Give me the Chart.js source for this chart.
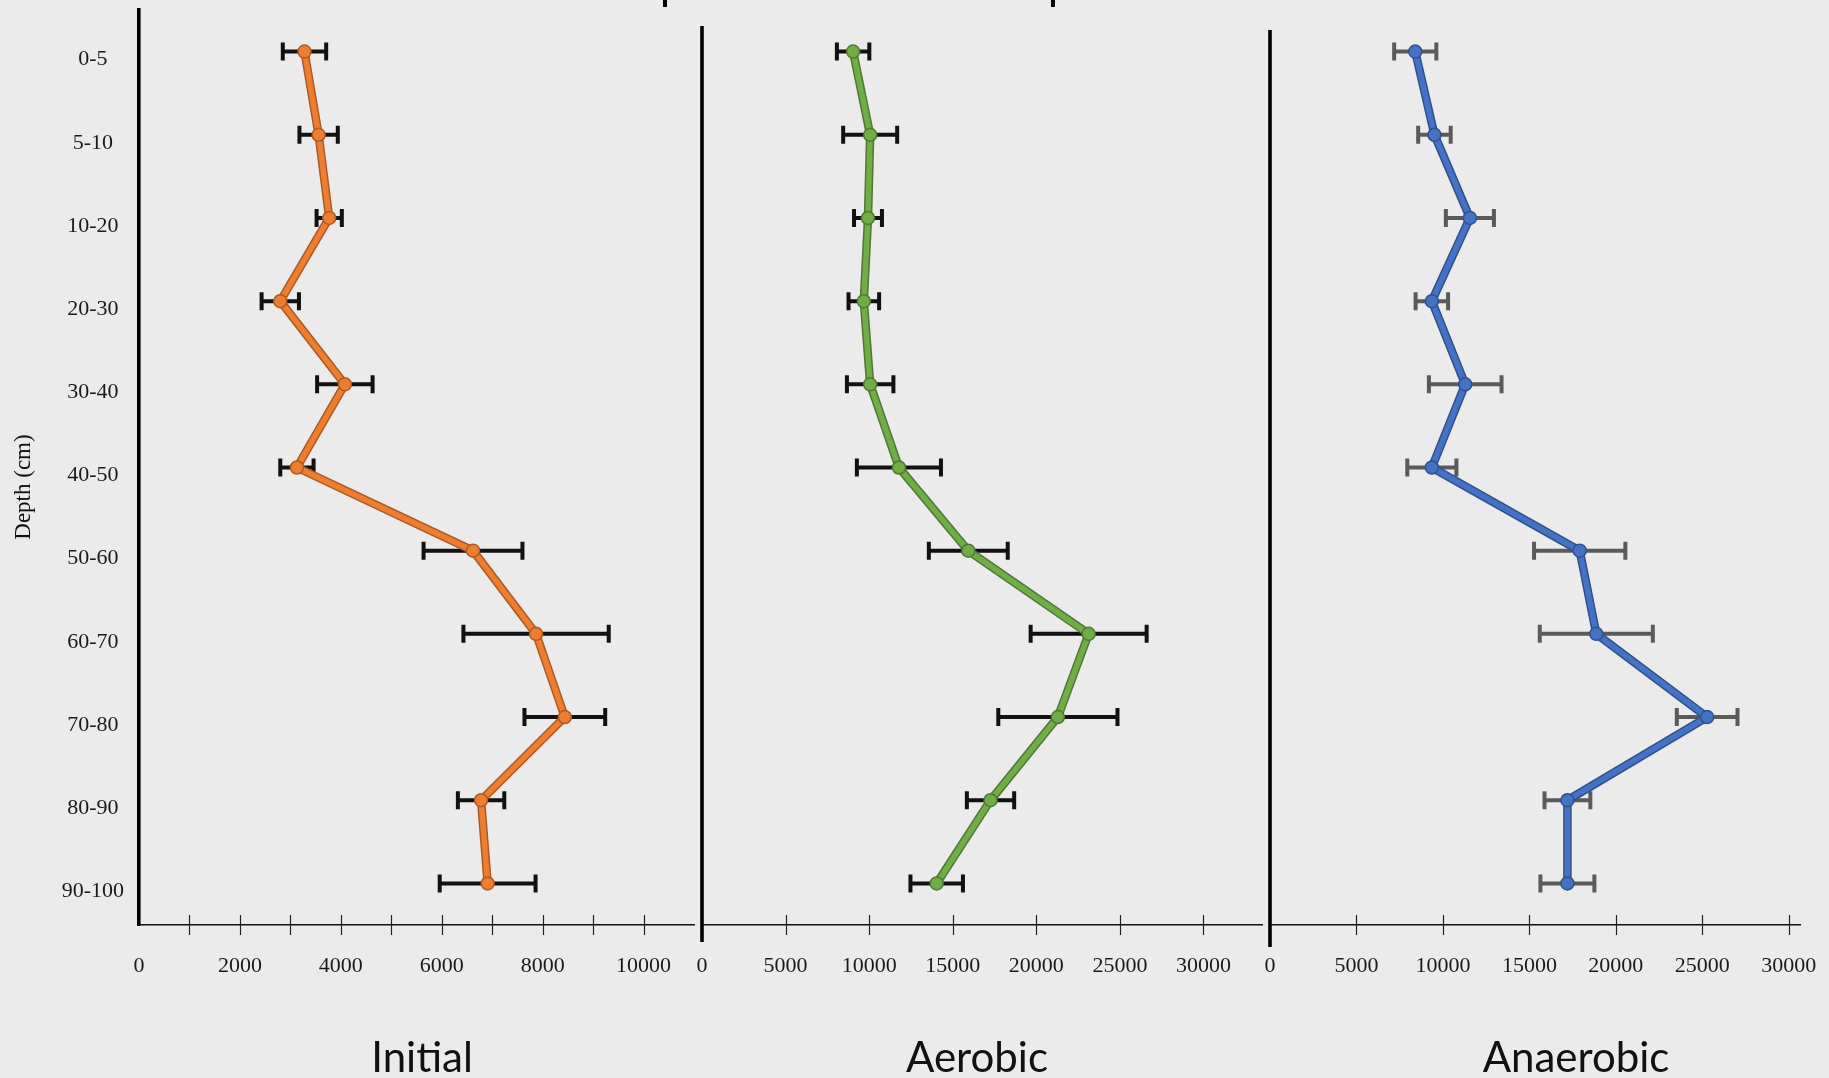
<!DOCTYPE html>
<html>
<head>
<meta charset="utf-8">
<script src="https://cdn.jsdelivr.net/npm/chart.js@4/dist/chart.umd.min.js"></script>
<style>
  html, body { margin:0; padding:0; background:#EBEBEB; width:1829px; height:1078px; overflow:hidden; }
  canvas { position:absolute; top:0; }
  .ptitle { position:absolute; width:400px; text-align:center; font-family:'Lato', sans-serif; font-size:42px; line-height:50.4px; color:#111; top:1031px; }
  .ylab { position:absolute; width:200px; height:30px; line-height:30px; text-align:center; font-family:'Liberation Serif', serif; font-size:23px; color:#111; left:-77px; top:472px; transform:rotate(-90deg); transform-origin:50% 50%; }
  .stub { position:absolute; top:0; width:4px; height:7px; background:#000; }
</style>
</head>
<body>
<canvas id="c1" width="702" height="1078" style="left:0px"></canvas>
<canvas id="c2" width="580" height="1078" style="left:690px"></canvas>
<canvas id="c3" width="571" height="1078" style="left:1258px"></canvas>
<div class="stub" style="left:663px"></div>
<div class="stub" style="left:1051px"></div>
<div class="ylab">Depth (cm)</div>
<div class="ptitle" style="left:222px">Initial</div>
<div class="ptitle" style="left:777px">Aerobic</div>
<div class="ptitle" style="left:1376px">Anaerobic</div>
<script>
// ---------- data ----------
const depthLabels = ['0-5','5-10','10-20','20-30','30-40','40-50','50-60','60-70','70-80','80-90','90-100'];

const initialValues = [3280, 3560, 3770, 2800, 4080, 3130, 6620, 7870, 8440, 6780, 6910];
const initialErrors = [430, 380, 250, 370, 550, 330, 980, 1440, 800, 460, 950];

const aerobicValues = [9040, 10060, 9930, 9680, 10060, 11780, 15930, 23130, 21290, 17260, 14040];
const aerobicErrors = [970, 1615, 835, 915, 1390, 2515, 2360, 3470, 3565, 1415, 1570];

const anaerobicValues = [8400, 9510, 11560, 9360, 11290, 9360, 17910, 18870, 25280, 17200, 17200];
const anaerobicErrors = [1220, 940, 1390, 940, 2100, 1420, 2640, 3270, 1755, 1325, 1560];

const initialTickLabels = [0, 2000, 4000, 6000, 8000, 10000];
const initialTickMarks = [1000, 2000, 3000, 4000, 5000, 6000, 7000, 8000, 9000, 10000];
const wideTickLabels = [0, 5000, 10000, 15000, 20000, 25000, 30000];
const wideTickMarks = [5000, 10000, 15000, 20000, 25000, 30000];

// ---------- plugins ----------
const errorBars = {
  id: 'errorBars',
  beforeDatasetsDraw(chart, args, o) {
    const {ctx} = chart; const xs = chart.scales.x, ys = chart.scales.y;
    ctx.save();
    ctx.strokeStyle = o.color; ctx.lineWidth = 4; ctx.lineCap = 'butt';
    o.values.forEach((v, i) => {
      const y = ys.getPixelForValue(i);
      const x1 = xs.getPixelForValue(v - o.errors[i]);
      const x2 = xs.getPixelForValue(v + o.errors[i]);
      ctx.beginPath();
      ctx.moveTo(x1, y); ctx.lineTo(x2, y);
      ctx.moveTo(x1, y - 9); ctx.lineTo(x1, y + 9);
      ctx.moveTo(x2, y - 9); ctx.lineTo(x2, y + 9);
      ctx.stroke();
    });
    ctx.restore();
  }
};
const crossTicks = {
  id: 'crossTicks',
  afterDraw(chart, args, o) {
    const {ctx} = chart; const xs = chart.scales.x; const yb = chart.chartArea.bottom;
    ctx.save(); ctx.strokeStyle = '#222'; ctx.lineWidth = 1.2;
    o.marks.forEach(v => {
      const x = Math.round(xs.getPixelForValue(v)) + 0.5;
      ctx.beginPath(); ctx.moveTo(x, yb - 10); ctx.lineTo(x, yb + 10); ctx.stroke();
    });
    ctx.restore();
  }
};
const divider = {
  id: 'divider',
  afterDraw(chart, args, o) {
    if (!o.show) return;
    const {ctx, chartArea} = chart;
    ctx.save(); ctx.strokeStyle = '#000'; ctx.lineWidth = 3.6;
    ctx.beginPath();
    ctx.moveTo(chartArea.left, chartArea.top + o.topInset);
    ctx.lineTo(chartArea.left, chartArea.bottom + o.bottomExtend);
    ctx.stroke(); ctx.restore();
  }
};

Chart.defaults.font.family = "'Liberation Serif', serif";
Chart.defaults.color = '#1a1a1a';

function makeChart(id, cfg) {
  const datasets = [
    { data: cfg.values, borderColor: cfg.dark, borderWidth: 8.5, pointRadius: 0, tension: 0,
      borderJoinStyle: 'round', borderCapStyle: 'round', order: 2 },
    { data: cfg.values, borderColor: cfg.light, borderWidth: 5.5, tension: 0,
      borderJoinStyle: 'round', borderCapStyle: 'round', order: 1,
      pointRadius: 6.5, pointBackgroundColor: cfg.light, pointBorderColor: cfg.dark, pointBorderWidth: 1.5 }
  ];
  return new Chart(document.getElementById(id), {
    type: 'line',
    data: { labels: depthLabels, datasets },
    options: {
      indexAxis: 'y',
      responsive: false, maintainAspectRatio: false, animation: false,
      layout: { padding: cfg.padding },
      plugins: {
        legend: { display: false }, tooltip: { enabled: false },
        errorBars: { values: cfg.values, errors: cfg.errors, color: cfg.errColor },
        crossTicks: { marks: cfg.marks },
        divider: cfg.divider
      },
      scales: {
        x: {
          type: 'linear', position: 'bottom', min: 0, max: cfg.max,
          afterBuildTicks: s => { s.ticks = cfg.tickLabels.map(v => ({ value: v })); },
          afterFit: s => { s.height = 153; },
          ticks: { font: { size: 22 }, padding: 0, maxRotation: 0, autoSkip: false, callback: v => String(v) },
          grid: { display: true, drawOnChartArea: false, drawTicks: true, tickLength: 28, color: 'rgba(0,0,0,0)' },
          border: { display: true, color: '#111', width: 1.5 }
        },
        y: {
          type: 'category', offset: true, display: cfg.showY,
          afterFit: s => { if (cfg.showY) s.width = 139; },
          ticks: { font: { size: 22, lineHeight: 0.85 }, padding: 0, crossAlign: 'center', labelOffset: 8 },
          grid: { display: true, drawOnChartArea: false, drawTicks: true, tickLength: 15, color: 'rgba(0,0,0,0)' },
          border: { display: true, color: '#000', width: 3.6 }
        }
      }
    },
    plugins: [errorBars, crossTicks, divider]
  });
}

makeChart('c1', { values: initialValues, errors: initialErrors, light: '#ED7D31', dark: '#AE5A21',
  errColor: '#111', max: 11000, tickLabels: initialTickLabels, marks: initialTickMarks,
  showY: true, padding: { top: 10, left: 0, right: 0, bottom: 0 }, divider: { show: false } });
makeChart('c2', { values: aerobicValues, errors: aerobicErrors, light: '#70AD47', dark: '#4E7A31',
  errColor: '#111', max: 33500, tickLabels: wideTickLabels, marks: wideTickMarks,
  showY: false, padding: { top: 10, left: 12, right: 0, bottom: 0 },
  divider: { show: true, topInset: 16, bottomExtend: 17 } });
makeChart('c3', { values: anaerobicValues, errors: anaerobicErrors, light: '#4472C4', dark: '#2F528F',
  errColor: '#5A5A5A', max: 30650, tickLabels: wideTickLabels, marks: wideTickMarks,
  showY: false, padding: { top: 10, left: 12, right: 29, bottom: 0 },
  divider: { show: true, topInset: 20, bottomExtend: 22 } });
</script>
</body>
</html>
